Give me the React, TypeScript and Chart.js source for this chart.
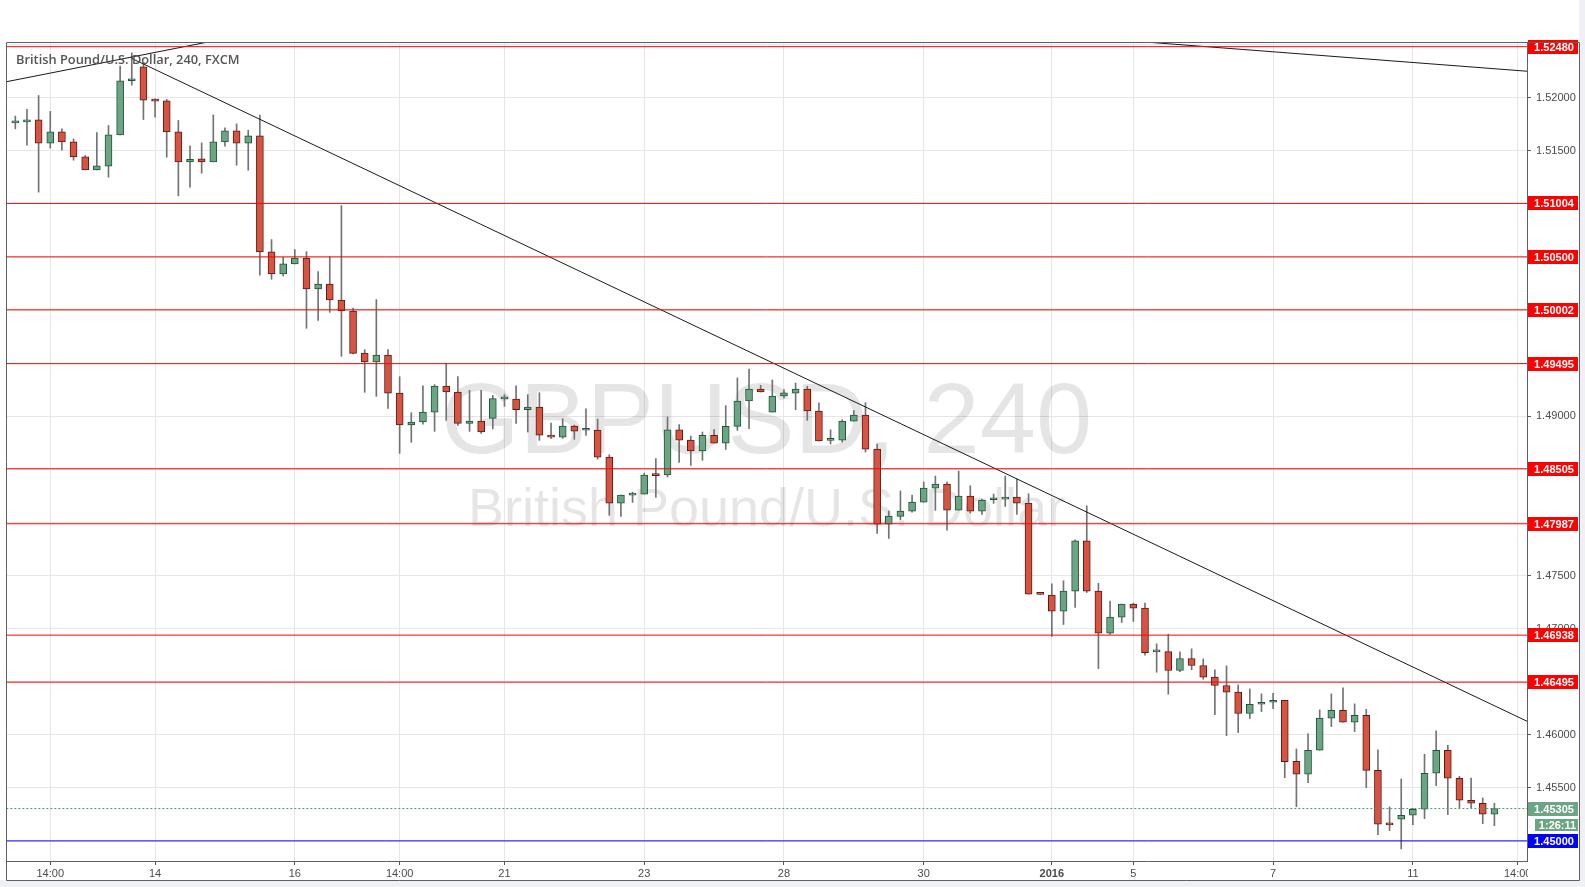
import React, { useEffect, useRef } from "react";
import { Chart, registerables } from "chart.js";
Chart.register(...registerables);

// ---- Data (GBPUSD 4h candles, FXCM) ----
const opens = [
  1.51763, 1.51772, 1.51791, 1.51571, 1.51678, 1.51584, 1.51442, 1.5132, 1.51355, 1.5165,
  1.52159, 1.5229, 1.51979, 1.5197, 1.51678, 1.51395, 1.51423, 1.51395, 1.51584, 1.51687,
  1.51571, 1.5164, 1.50547, 1.50339, 1.50434, 1.5049, 1.50198, 1.50245, 1.50094, 1.49991,
  1.49595, 1.4951, 1.49576, 1.49218, 1.48917, 1.48945, 1.49039, 1.49284, 1.49228, 1.48933,
  1.48955, 1.4898, 1.49163, 1.49162, 1.49061, 1.49086, 1.48822, 1.48803, 1.48907, 1.48868,
  1.48869, 1.48615, 1.48182, 1.48257, 1.48266, 1.48446, 1.48446, 1.48871, 1.48775, 1.48672,
  1.48819, 1.48747, 1.48904, 1.49143, 1.49256, 1.49039, 1.4919, 1.49218, 1.49256, 1.49049,
  1.48772, 1.48775, 1.48954, 1.49011, 1.4869, 1.47984, 1.48056, 1.48106, 1.4819, 1.48323,
  1.48361, 1.48116, 1.48248, 1.48106, 1.48213, 1.48219, 1.48238, 1.48182, 1.47326, 1.47315,
  1.47164, 1.47352, 1.47826, 1.47352, 1.46956, 1.47107, 1.4723, 1.47192, 1.4678, 1.46783,
  1.46605, 1.46718, 1.46652, 1.46542, 1.46464, 1.46401, 1.462, 1.46287, 1.46306, 1.46325,
  1.4575, 1.45628, 1.45854, 1.46156, 1.46231, 1.46118, 1.46184, 1.45665, 1.45157, 1.45204,
  1.45242, 1.45298, 1.45637, 1.45854, 1.4559, 1.45383, 1.45355, 1.45251,
];
const highs = [
  1.51826, 1.51889, 1.5202, 1.5187, 1.51706, 1.51612, 1.51455, 1.51672, 1.51738, 1.52297,
  1.52422, 1.52322, 1.51989, 1.51983, 1.51785, 1.51546, 1.51574, 1.51838, 1.51716, 1.51753,
  1.51694, 1.51835, 1.50663, 1.50496, 1.50569, 1.5055, 1.50361, 1.50503, 1.50983, 1.50019,
  1.49627, 1.50098, 1.49627, 1.49372, 1.49033, 1.49287, 1.49297, 1.49495, 1.49372, 1.49243,
  1.49243, 1.49196, 1.49203, 1.49287, 1.49203, 1.49221, 1.48935, 1.48976, 1.48916, 1.4907,
  1.48973, 1.48637, 1.48257, 1.48285, 1.48464, 1.486, 1.48992, 1.4892, 1.48813, 1.48851,
  1.48873, 1.49099, 1.4936, 1.49444, 1.4929, 1.49341, 1.4925, 1.49312, 1.49281, 1.49127,
  1.48872, 1.48967, 1.49052, 1.49127, 1.48737, 1.48106, 1.48295, 1.48257, 1.4838, 1.48436,
  1.4838, 1.48483, 1.48345, 1.48219, 1.48267, 1.48436, 1.48408, 1.4827, 1.47328, 1.47421,
  1.4745, 1.47836, 1.48156, 1.47427, 1.47258, 1.4723, 1.4724, 1.4724, 1.46856, 1.46947,
  1.46781, 1.46809, 1.46714, 1.46611, 1.46649, 1.4647, 1.46432, 1.46385, 1.46391, 1.46325,
  1.45866, 1.46008, 1.46234, 1.46385, 1.46441, 1.46291, 1.4624, 1.45857, 1.4532, 1.45584,
  1.45308, 1.45816, 1.46036, 1.45901, 1.45609, 1.45593, 1.45405, 1.45355,
];
const lows = [
  1.51706, 1.51552, 1.5111, 1.51524, 1.51505, 1.51411, 1.5132, 1.5132, 1.51251, 1.5165,
  1.52118, 1.51794, 1.51816, 1.51439, 1.51075, 1.51157, 1.51288, 1.51395, 1.51543, 1.51364,
  1.51317, 1.50327, 1.50289, 1.5032, 1.50434, 1.49828, 1.49903, 1.49978, 1.49564, 1.49586,
  1.49225, 1.49187, 1.49074, 1.4865, 1.48754, 1.48926, 1.48857, 1.48961, 1.48914, 1.48857,
  1.48838, 1.4888, 1.49093, 1.48932, 1.48851, 1.48772, 1.48791, 1.48791, 1.48782, 1.48819,
  1.48596, 1.48066, 1.48056, 1.48188, 1.48266, 1.48235, 1.48427, 1.48565, 1.48537, 1.48584,
  1.48747, 1.48687, 1.48866, 1.48883, 1.49228, 1.49039, 1.49171, 1.49061, 1.48961, 1.48766,
  1.48738, 1.48756, 1.48954, 1.48662, 1.47896, 1.47849, 1.48025, 1.48097, 1.4819, 1.48113,
  1.47927, 1.48116, 1.48088, 1.48075, 1.48179, 1.4815, 1.48075, 1.47324, 1.4732, 1.46925,
  1.47038, 1.47198, 1.4734, 1.46623, 1.46944, 1.47057, 1.47067, 1.46749, 1.46589, 1.46382,
  1.46595, 1.46611, 1.46523, 1.4619, 1.45992, 1.4602, 1.46152, 1.46218, 1.46246, 1.45596,
  1.45323, 1.45549, 1.45854, 1.46077, 1.46118, 1.4603, 1.45502, 1.4506, 1.45097, 1.44925,
  1.45153, 1.4521, 1.45521, 1.45248, 1.45314, 1.45314, 1.45163, 1.45144,
];
const closes = [
  1.51775, 1.51791, 1.51571, 1.51678, 1.51584, 1.51442, 1.5132, 1.51358, 1.5165, 1.52159,
  1.52177, 1.51976, 1.51967, 1.51678, 1.51395, 1.5142, 1.51395, 1.51584, 1.51687, 1.51571,
  1.5164, 1.50547, 1.50339, 1.50434, 1.5049, 1.50198, 1.50245, 1.50094, 1.49991, 1.49592,
  1.4951, 1.49576, 1.49218, 1.48917, 1.48945, 1.49039, 1.49284, 1.49228, 1.48933, 1.48955,
  1.48851, 1.49165, 1.49166, 1.49061, 1.49086, 1.48822, 1.48803, 1.48907, 1.4886, 1.48871,
  1.48615, 1.48182, 1.48257, 1.48266, 1.48446, 1.4844, 1.48871, 1.48775, 1.48672, 1.48819,
  1.48747, 1.48904, 1.49143, 1.49256, 1.49228, 1.4919, 1.49221, 1.49256, 1.49049, 1.48766,
  1.48776, 1.48954, 1.49011, 1.4869, 1.47984, 1.48059, 1.48106, 1.4819, 1.48323, 1.48361,
  1.48116, 1.48248, 1.48106, 1.4821, 1.48216, 1.48238, 1.48182, 1.47324, 1.47322, 1.47164,
  1.47352, 1.47826, 1.47352, 1.46956, 1.47107, 1.4723, 1.47192, 1.46774, 1.46783, 1.46605,
  1.46718, 1.46652, 1.46542, 1.46464, 1.46401, 1.462, 1.46287, 1.46306, 1.46325, 1.45747,
  1.45628, 1.45854, 1.46156, 1.46231, 1.46118, 1.46184, 1.45665, 1.45157, 1.45151, 1.45242,
  1.45298, 1.45637, 1.45854, 1.4559, 1.45383, 1.45355, 1.45251, 1.45305,
];

const xTickPositions = [3, 12, 24, 33, 42, 54, 66, 78, 89, 96, 108, 120, 129];
const xTickLabels = ["14:00", "14", "16", "14:00", "21", "23", "28", "30", "2016", "5", "7", "11", "14:00"];

const redLevels = [1.5248, 1.51004, 1.505, 1.50002, 1.49495, 1.48505, 1.47987, 1.46938, 1.46495];
const supportLevel = 1.45;
const lastPrice = 1.45305;
const countdown = "1:26:11";

const trendUpLeft = [
  { x: -0.8, y: 1.52149 },
  { x: 20, y: 1.52599 },
];
const trendMain = [
  { x: 10, y: 1.52369 },
  { x: 130, y: 1.46117 },
];
const trendTopRight = [
  { x: 90, y: 1.52583 },
  { x: 130, y: 1.52247 },
];

const X_MIN = -0.8;
const X_MAX = 129.8;
const Y_MIN = 1.44811;
const Y_MAX = 1.52524;

const UP_FILL = "#6ba583";
const UP_LINE = "#225437";
const DOWN_FILL = "#d75442";
const DOWN_LINE = "#5b1a13";
const WICK = "#737375";

const bodies = opens.map((o, i) => ({ x: i, y: [o, closes[i]] }));
const wicks = lows.map((l, i) => ({ x: i, y: [l, highs[i]] }));
const isUp = (i: number) => closes[i] >= opens[i];

const hLine = (v: number) => [
  { x: X_MIN - 1, y: v },
  { x: X_MAX + 1, y: v },
];

const FRAME_RIGHT = 1579;

const overlayPlugin = {
  id: "overlay",
  beforeDraw(chart: any) {
    const { ctx, width, height, chartArea } = chart;
    ctx.save();
    ctx.fillStyle = "#eef0f4";
    ctx.fillRect(0, 0, width, height);
    const fb = chartArea.bottom + 19;
    ctx.fillStyle = "#ffffff";
    ctx.fillRect(0, 0, FRAME_RIGHT, fb);
    ctx.restore();
  },
  beforeDatasetsDraw(chart: any) {
    const { ctx, chartArea } = chart;
    const cx = (chartArea.left + chartArea.right) / 2;
    const cy = (chartArea.top + chartArea.bottom) / 2;
    ctx.save();
    ctx.fillStyle = "rgba(0,0,0,0.1)";
    ctx.textAlign = "center";
    ctx.textBaseline = "alphabetic";
    ctx.font = '101px "Liberation Sans", Arial, sans-serif';
    ctx.fillText("GBPUSD, 240", cx, cy + 1.5);
    ctx.font = '54px "Liberation Sans", Arial, sans-serif';
    ctx.fillText("British Pound/U.S. Dollar", cx, cy + 74);
    ctx.restore();
  },
  afterDraw(chart: any) {
    const { ctx, chartArea } = chart;
    const y = chart.scales.y;
    ctx.save();
    // clip region under right axis at bottom
    ctx.fillStyle = "#ffffff";
    ctx.fillRect(chartArea.right + 1, chartArea.bottom + 1, FRAME_RIGHT - chartArea.right - 1, 18);

    // title
    ctx.fillStyle = "#555555";
    ctx.textAlign = "left";
    ctx.textBaseline = "middle";
    let fs = 13;
    const title = "British Pound/U.S. Dollar, 240, FXCM";
    ctx.font = `600 ${fs}px "Open Sans", sans-serif`;
    const w = ctx.measureText(title).width;
    fs = (fs * 224) / w;
    ctx.font = `600 ${fs}px "Open Sans", sans-serif`;
    ctx.fillText(title, chartArea.left + 10, chartArea.top + 18);

    // price labels
    const boxL = chartArea.right + 1;
    const boxR = FRAME_RIGHT - 1;
    const label = (v: number, bg: string, text: string) => {
      const py = Math.round(y.getPixelForValue(v));
      ctx.fillStyle = bg;
      ctx.fillRect(boxL, py - 7, boxR - boxL, 14);
      ctx.fillStyle = "#ffffff";
      ctx.font = 'bold 11px "Liberation Sans", Arial, sans-serif';
      ctx.textAlign = "center";
      ctx.textBaseline = "middle";
      ctx.fillText(text, (boxL + boxR) / 2 + 1, py + 0.5);
      return py;
    };
    redLevels.forEach((v) => label(v, "#ff0000", v.toFixed(5)));
    label(supportLevel, "#0000ff", supportLevel.toFixed(5));
    const lp = label(lastPrice, "#6ba583", lastPrice.toFixed(5));
    // countdown box
    ctx.fillStyle = "#6ba583";
    const cl = boxL + 7;
    ctx.fillRect(cl, lp + 10, boxR - cl, 12);
    ctx.fillStyle = "#ffffff";
    ctx.fillText(countdown, (cl + boxR) / 2 + 1, lp + 16.5);

    // frame
    ctx.strokeStyle = "#5d606b";
    ctx.lineWidth = 1;
    ctx.beginPath();
    const fl = chartArea.left + 0.5;
    const ft = chartArea.top + 0.5;
    const fb = chartArea.bottom + 19.5;
    const fr = FRAME_RIGHT + 0.5;
    ctx.moveTo(fr, ft);
    ctx.lineTo(fl, ft);
    ctx.lineTo(fl, fb);
    ctx.lineTo(fr, fb);
    ctx.lineTo(fr, ft);
    ctx.stroke();
    ctx.restore();
  },
};

export default function App() {
  const ref = useRef<HTMLCanvasElement | null>(null);
  useEffect(() => {
    if (!ref.current) return;
    const lineDs = (data: any[], color: string, extra: any = {}) => ({
      type: "line" as const,
      data,
      borderColor: color,
      borderWidth: 1,
      pointRadius: 0,
      fill: false,
      order: 0,
      ...extra,
    });
    const chart = new Chart(ref.current, {
      type: "bar",
      data: {
        datasets: [
          ...redLevels.map((v) => lineDs(hLine(v), "#ff0000")),
          lineDs(hLine(supportLevel), "#0000ff"),
          lineDs(hLine(lastPrice), "#4f9a6c", { borderDash: [2, 2] }),
          lineDs(trendUpLeft, "#1a1a1a"),
          lineDs(trendMain, "#1a1a1a"),
          lineDs(trendTopRight, "#1a1a1a"),
          {
            type: "bar" as const,
            data: bodies as any,
            backgroundColor: opens.map((_, i) => (isUp(i) ? UP_FILL : DOWN_FILL)),
            borderColor: opens.map((_, i) => (isUp(i) ? UP_LINE : DOWN_LINE)),
            borderWidth: 1,
            borderSkipped: false,
            barThickness: 7,
            minBarLength: 2,
            grouped: false,
            order: 1,
          },
          {
            type: "bar" as const,
            data: wicks as any,
            backgroundColor: WICK,
            borderWidth: 0,
            barThickness: 1,
            grouped: false,
            order: 2,
          },
        ] as any,
      },
      options: {
        animation: false,
        responsive: false,
        maintainAspectRatio: false,
        layout: { padding: { left: 6, top: 42, right: 0, bottom: 7 } },
        plugins: { legend: { display: false }, tooltip: { enabled: false }, title: { display: false } },
        scales: {
          x: {
            type: "linear",
            min: X_MIN,
            max: X_MAX,
            offset: false,
            grid: {
              offset: false,
              color: "#e6e6e6",
              tickColor: "#555555",
              tickLength: 4,
              drawTicks: true,
            },
            border: { display: true, color: "#5d606b" },
            afterBuildTicks: (scale: any) => {
              scale.ticks = xTickPositions.map((v) => ({ value: v }));
            },
            afterFit: (scale: any) => {
              scale.height = 19;
            },
            ticks: {
              autoSkip: false,
              maxRotation: 0,
              padding: 2,
              color: "#4a4a4a",
              font: (c: any) => ({
                family: '"Liberation Sans", Arial, sans-serif',
                size: 11,
                weight: c.tick && c.tick.value === 89 ? "bold" : "normal",
              }),
              callback: (v: any) => {
                const k = xTickPositions.indexOf(Number(v));
                return k >= 0 ? xTickLabels[k] : "";
              },
            },
          },
          y: {
            type: "linear",
            position: "right",
            min: Y_MIN,
            max: Y_MAX,
            beginAtZero: false,
            grid: { color: "#e6e6e6", tickColor: "#555555", tickLength: 4 },
            border: { display: true, color: "#5d606b" },
            afterFit: (scale: any) => {
              scale.width = 58;
            },
            ticks: {
              stepSize: 0.005,
              includeBounds: false,
              padding: 5,
              color: "#4a4a4a",
              font: { family: '"Liberation Sans", Arial, sans-serif', size: 11 },
              callback: (v: any) => Number(v).toFixed(5),
            },
          },
        },
      } as any,
      plugins: [overlayPlugin],
    });
    return () => chart.destroy();
  }, []);
  return (
    <div style={{ position: "absolute", left: 0, top: 0, width: 1585, height: 887, background: "#fff" }}>
      <canvas ref={ref} width={1585} height={887} style={{ display: "block", width: 1585, height: 887 }} />
    </div>
  );
}
